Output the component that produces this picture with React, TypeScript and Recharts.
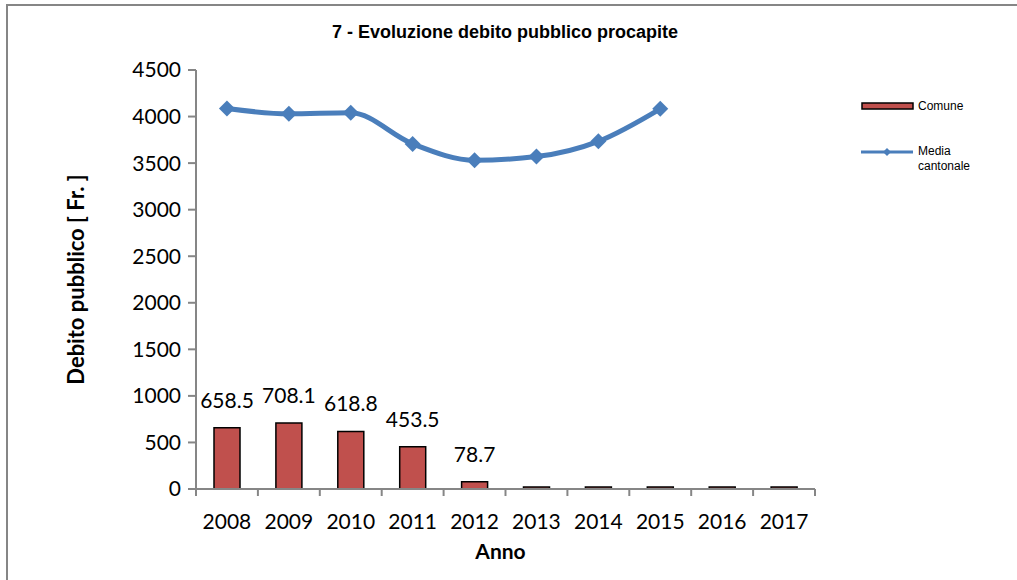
import { ComposedChart, Bar, Line, XAxis, YAxis, LabelList } from 'recharts';

const years = ['2008', '2009', '2010', '2011', '2012', '2013', '2014', '2015', '2016', '2017'];
const comune = [658.5, 708.1, 618.8, 453.5, 78.7, 0, 0, 0, 0, 0];
const mediaCantonale: (number | null)[] = [4086, 4029, 4040, 3706, 3530, 3570, 3734, 4083, null, null];
const yTicks = [0, 500, 1000, 1500, 2000, 2500, 3000, 3500, 4000, 4500];

const data = years.map((anno, i) => ({ anno, comune: comune[i], media: mediaCantonale[i] }));

const W = 1017;
const H = 580;
const margin = { top: 70, right: 202, bottom: 51, left: 0 };
const yAxisWidth = 196;
const half = (W - margin.left - margin.right - yAxisWidth) / years.length / 2;

const axisGray = '#868686';
const barRed = '#C0504D';
const lineBlue = '#4A7EBB';
const calibri = 'Lato, "Open Sans", sans-serif';
const arial = '"Liberation Sans", Arial, sans-serif';

const TICK_SIZE = 7;
const TICK_MARGIN = 18;

// category ticks sit between the bars, like the Excel original
const YearTick = (props: any) => {
  const { x, y, payload, index, visibleTicksCount } = props;
  const top = y - TICK_SIZE - TICK_MARGIN;
  return (
    <g>
      <line x1={x - half} x2={x - half} y1={top} y2={top + TICK_SIZE} stroke={axisGray} strokeWidth={2} />
      {index === visibleTicksCount - 1 && (
        <line x1={x + half} x2={x + half} y1={top} y2={top + TICK_SIZE} stroke={axisGray} strokeWidth={2} />
      )}
      <text x={x} y={y} dy="0.71em" textAnchor="middle" fill="#000" fontSize={21} fontFamily={calibri}>
        {payload.value}
      </text>
    </g>
  );
};

const Diamond = (props: any) => {
  const { cx, cy } = props;
  if (cx == null || cy == null) return <g />;
  const r = 8;
  return <path d={`M${cx},${cy - r}L${cx + r},${cy}L${cx},${cy + r}L${cx - r},${cy}Z`} fill={lineBlue} />;
};

const YTitle = (props: any) => {
  const { viewBox } = props;
  const cx = 75;
  const cy = viewBox.y + viewBox.height / 2;
  return (
    <text x={cx} y={cy} transform={`rotate(-90, ${cx}, ${cy})`} textAnchor="middle" dominantBaseline="central"
      fontSize={22} fontWeight="bold" fontFamily={calibri} fill="#000">
      Debito pubblico [ Fr. ]
    </text>
  );
};

const XTitle = (props: any) => {
  const { viewBox } = props;
  const cx = viewBox.x + viewBox.width / 2 - 5;
  const cy = viewBox.y + 61;
  return (
    <text x={cx} y={cy} textAnchor="middle" dominantBaseline="central"
      fontSize={21} fontWeight="bold" fontFamily={calibri} fill="#000">
      Anno
    </text>
  );
};

const LegendBox = () => (
  <div style={{ position: 'absolute', left: 860, top: 96, fontFamily: arial, fontSize: 12, color: '#000' }}>
    <div style={{ display: 'flex', alignItems: 'center', height: 20 }}>
      <svg width={56} height={10}>
        <rect x={2} y={2} width={51} height={6} fill={barRed} stroke="#000" strokeWidth={1.5} />
      </svg>
      <span style={{ marginLeft: 2 }}>Comune</span>
    </div>
    <div style={{ display: 'flex', alignItems: 'flex-start', marginTop: 28 }}>
      <svg width={56} height={14} style={{ marginTop: 1 }}>
        <line x1={1} x2={53} y1={7} y2={7} stroke={lineBlue} strokeWidth={3} />
        <path d="M27,3L31,7L27,11L23,7Z" fill={lineBlue} />
      </svg>
      <span style={{ marginLeft: 2, lineHeight: '15px' }}>
        Media
        <br />
        cantonale
      </span>
    </div>
  </div>
);

export default function App() {
  return (
    <div style={{ position: 'absolute', left: 0, top: 0, width: W, height: H, overflow: 'hidden', background: '#fff' }}>
      <div style={{ position: 'absolute', left: 6, top: 4, width: W + 20, height: H + 20, border: `2px solid ${axisGray}` }} />
      <div style={{ position: 'absolute', left: 0, top: 22, width: 1010, textAlign: 'center', fontFamily: arial, fontWeight: 'bold', fontSize: 18 }}>
        7 - Evoluzione debito pubblico procapite
      </div>
      <div style={{ position: 'absolute', left: 0, top: 0 }}>
        <ComposedChart width={W} height={H} data={data} margin={margin}>
          <XAxis
            dataKey="anno"
            height={40}
            tickLine={false}
            tickSize={TICK_SIZE}
            tickMargin={TICK_MARGIN}
            tick={<YearTick />}
            interval={0}
            axisLine={{ stroke: axisGray, strokeWidth: 2 }}
            label={<XTitle />}
          />
          <YAxis
            width={yAxisWidth}
            domain={[0, 4500]}
            ticks={yTicks}
            interval={0}
            tickSize={8}
            tickMargin={7}
            tickLine={{ stroke: axisGray, strokeWidth: 2 }}
            axisLine={{ stroke: axisGray, strokeWidth: 2 }}
            tick={{ fill: '#000', fontSize: 21, fontFamily: calibri }}
            label={<YTitle />}
          />
          <Bar dataKey="comune" barSize={26} fill={barRed} stroke="#000" strokeWidth={1.5} minPointSize={2} isAnimationActive={false}>
            <LabelList
              dataKey="comune"
              position="top"
              offset={20}
              formatter={(v: any) => (v > 0 ? Number(v).toFixed(1) : '')}
              style={{ fill: '#000', fontSize: 21, fontFamily: calibri }}
            />
          </Bar>
          <Line
            dataKey="media"
            type="monotone"
            stroke={lineBlue}
            strokeWidth={5}
            dot={<Diamond />}
            activeDot={false}
            connectNulls={false}
            isAnimationActive={false}
          />
        </ComposedChart>
      </div>
      <LegendBox />
    </div>
  );
}
